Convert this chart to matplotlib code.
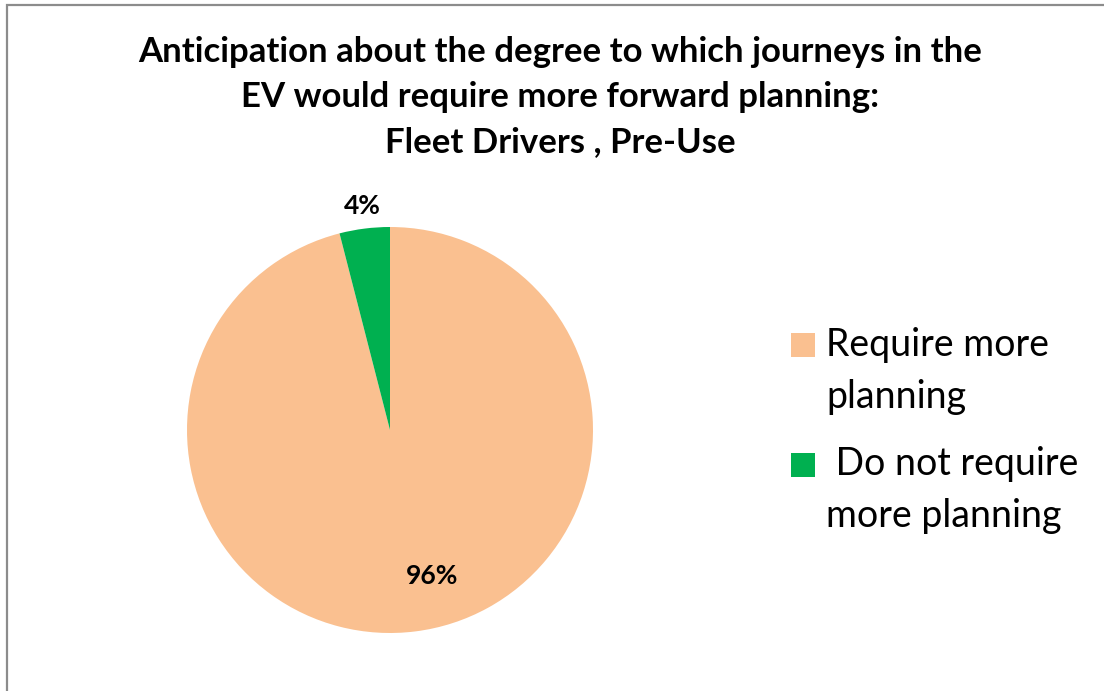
import matplotlib
matplotlib.use("Agg")
import matplotlib.pyplot as plt
from matplotlib.patches import Rectangle
import numpy as np

# Survey shares
categories = ["Require more\nplanning", " Do not require\nmore planning"]
values = [96, 4]
colors = ["#FAC090", "#00B050"]
pct_labels = ["96%", "4%"]

title = ("Anticipation about the degree to which journeys in the\n"
         "EV would require more forward planning:\n"
         "Fleet Drivers , Pre-Use")

W, H = 1104, 691
fig = plt.figure(figsize=(W / 100, H / 100), dpi=100)
fig.patch.set_facecolor("white")


def fx(px):
    return px / W


def fy(py):
    return 1 - py / H


# chart-area frame
fig.patches.append(Rectangle((fx(7), -0.1), 1.2, fy(4.5) + 0.1,
                             transform=fig.transFigure, fill=False,
                             edgecolor="#8c8c8c", linewidth=1.6, zorder=0))

cx, cy, r = 390, 430, 203
ax = fig.add_axes([fx(cx - r), fy(cy + r), 2 * r / W, 2 * r / H])
wedges, _ = ax.pie(values, colors=colors, startangle=90, counterclock=False,
                   radius=1.0, wedgeprops=dict(linewidth=0))
ax.set_xlim(-1, 1)
ax.set_ylim(-1, 1)
ax.set_aspect("equal")
ax.axis("off")

# percentage labels (placed relative to each wedge's mid-angle)
label_font = dict(family="Lato", weight="bold", size=19, ha="center", va="baseline")
for w, lab, dist, shift in zip(wedges, pct_labels, [0.787, 1.073], [8.2, 0.2]):
    ang = np.deg2rad((w.theta1 + w.theta2) / 2 + shift)
    ax.text(dist * np.cos(ang), dist * np.sin(ang), lab, **label_font)

# multi-line text with va="baseline" anchors on the last line's baseline
fig.text(fx(560), fy(152), title, ha="center", va="baseline",
         family="Lato", weight="bold", size=25, linespacing=1.5)

# legend: colour key square beside the first line of each entry
sq = 24
for w, lab, top, last_base in zip(wedges, categories, [333, 453], [408, 527]):
    fig.patches.append(Rectangle((fx(791), fy(top + sq)), sq / W, sq / H,
                                 transform=fig.transFigure,
                                 facecolor=w.get_facecolor(), linewidth=0))
    fig.text(fx(826), fy(last_base), lab, ha="left", va="baseline",
             family="Lato", size=27, linespacing=1.55)

fig.savefig("out.png", dpi=100)
